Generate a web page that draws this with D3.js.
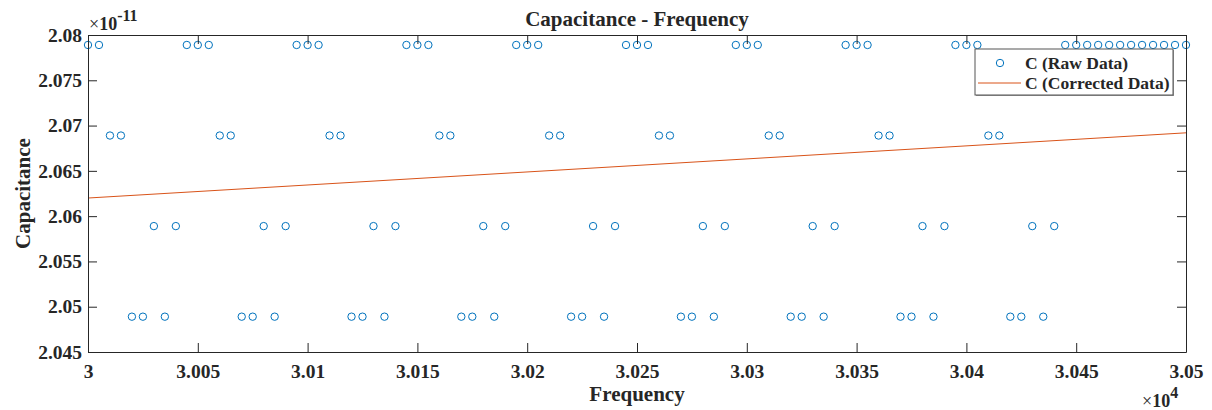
<!DOCTYPE html>
<html>
<head>
<meta charset="utf-8">
<script src="https://cdn.jsdelivr.net/npm/d3@7"></script>
<style>
  body { margin: 0; background: #fff; }
  text { font-family: "Liberation Serif", "Times New Roman", serif; font-weight: bold; fill: #262626; }
  .tick text { font-size: 19.5px; }
  .axis path, .axis line { stroke: #262626; stroke-width: 1; }
</style>
</head>
<body>
<div id="chart"></div>
<script>
// raw measurements, frequency in Hz, capacitance in units of 1e-11 F
const freqRaw = [
  30000, 30005, 30010, 30015, 30020, 30025, 30030, 30035, 30040, 30045,
  30050, 30055, 30060, 30065, 30070, 30075, 30080, 30085, 30090, 30095,
  30100, 30105, 30110, 30115, 30120, 30125, 30130, 30135, 30140, 30145,
  30150, 30155, 30160, 30165, 30170, 30175, 30180, 30185, 30190, 30195,
  30200, 30205, 30210, 30215, 30220, 30225, 30230, 30235, 30240, 30245,
  30250, 30255, 30260, 30265, 30270, 30275, 30280, 30285, 30290, 30295,
  30300, 30305, 30310, 30315, 30320, 30325, 30330, 30335, 30340, 30345,
  30350, 30355, 30360, 30365, 30370, 30375, 30380, 30385, 30390, 30395,
  30400, 30405, 30410, 30415, 30420, 30425, 30430, 30435, 30440, 30445,
  30450, 30455, 30460, 30465, 30470, 30475, 30480, 30485, 30490, 30495,
  30500
];
const capRaw = [
  2.0789, 2.0789, 2.0689, 2.0689, 2.0489, 2.0489, 2.0589, 2.0489, 2.0589, 2.0789,
  2.0789, 2.0789, 2.0689, 2.0689, 2.0489, 2.0489, 2.0589, 2.0489, 2.0589, 2.0789,
  2.0789, 2.0789, 2.0689, 2.0689, 2.0489, 2.0489, 2.0589, 2.0489, 2.0589, 2.0789,
  2.0789, 2.0789, 2.0689, 2.0689, 2.0489, 2.0489, 2.0589, 2.0489, 2.0589, 2.0789,
  2.0789, 2.0789, 2.0689, 2.0689, 2.0489, 2.0489, 2.0589, 2.0489, 2.0589, 2.0789,
  2.0789, 2.0789, 2.0689, 2.0689, 2.0489, 2.0489, 2.0589, 2.0489, 2.0589, 2.0789,
  2.0789, 2.0789, 2.0689, 2.0689, 2.0489, 2.0489, 2.0589, 2.0489, 2.0589, 2.0789,
  2.0789, 2.0789, 2.0689, 2.0689, 2.0489, 2.0489, 2.0589, 2.0489, 2.0589, 2.0789,
  2.0789, 2.0789, 2.0689, 2.0689, 2.0489, 2.0489, 2.0589, 2.0489, 2.0589, 2.0789,
  2.0789, 2.0789, 2.0789, 2.0789, 2.0789, 2.0789, 2.0789, 2.0789, 2.0789, 2.0789,
  2.0789
];

// fitted (corrected) line
const freqFit = [30000, 30500];
const capFit = [2.0620, 2.0692];

const xTicks = [30000, 30050, 30100, 30150, 30200, 30250, 30300, 30350, 30400, 30450, 30500];
const xTickLabels = ["3", "3.005", "3.01", "3.015", "3.02", "3.025", "3.03", "3.035", "3.04", "3.045", "3.05"];
const yTicks = [2.045, 2.05, 2.055, 2.06, 2.065, 2.07, 2.075, 2.08];
const yTickLabels = ["2.045", "2.05", "2.055", "2.06", "2.065", "2.07", "2.075", "2.08"];

const width = 1212;
const height = 410;
const margin = { top: 35, right: 26, bottom: 58, left: 88 };

const svg = d3.select("#chart")
  .append("svg")
  .attr("width", width)
  .attr("height", height);

svg.append("rect").attr("width", width).attr("height", height).attr("fill", "#fff");

const x = d3.scaleLinear()
  .domain([30000, 30500])
  .range([margin.left, width - margin.right]);

const y = d3.scaleLinear()
  .domain([2.045, 2.08])
  .range([height - margin.bottom, margin.top]);

const raw = freqRaw.map((f, i) => ({ f, c: capRaw[i] }));
const fit = freqFit.map((f, i) => ({ f, c: capFit[i] }));

// raw points
svg.append("g")
  .selectAll("circle")
  .data(raw)
  .enter()
  .append("circle")
  .attr("cx", d => x(d.f))
  .attr("cy", d => y(d.c))
  .attr("r", 3.7)
  .attr("fill", "none")
  .attr("stroke", "#0072BD")
  .attr("stroke-width", 1);

// corrected line
svg.append("path")
  .datum(fit)
  .attr("fill", "none")
  .attr("stroke", "#D95319")
  .attr("stroke-width", 1)
  .attr("d", d3.line().x(d => x(d.f)).y(d => y(d.c)));

// axes, ticks inward like matlab
svg.append("g")
  .attr("class", "axis")
  .attr("transform", `translate(0,${y(2.045)})`)
  .call(d3.axisBottom(x).tickValues(xTicks)
    .tickFormat((d, i) => xTickLabels[i])
    .tickSizeInner(-9).tickSizeOuter(0).tickPadding(12));

svg.append("g")
  .attr("class", "axis")
  .attr("transform", `translate(0,${y(2.08)})`)
  .call(d3.axisTop(x).tickValues(xTicks).tickFormat("")
    .tickSizeInner(-9).tickSizeOuter(0));

svg.append("g")
  .attr("class", "axis")
  .attr("transform", `translate(${x(30000)},0)`)
  .call(d3.axisLeft(y).tickValues(yTicks)
    .tickFormat((d, i) => yTickLabels[i])
    .tickSizeInner(-9).tickSizeOuter(0).tickPadding(6));

svg.append("g")
  .attr("class", "axis")
  .attr("transform", `translate(${x(30500)},0)`)
  .call(d3.axisRight(y).tickValues(yTicks).tickFormat("")
    .tickSizeInner(-9).tickSizeOuter(0));

// exponent labels
const yExp = svg.append("text")
  .attr("x", 89)
  .attr("y", 30)
  .style("font-size", "18px")
  .style("font-weight", "normal");
yExp.append("tspan").text("\u00d7");
yExp.append("tspan").style("font-weight", "bold").text("10");
yExp.append("tspan").attr("dy", -9).style("font-size", "16px").style("font-weight", "bold").text("-11");

const xExp = svg.append("text")
  .attr("x", 1142)
  .attr("y", 407)
  .style("font-size", "18px")
  .style("font-weight", "normal");
xExp.append("tspan").text("\u00d7");
xExp.append("tspan").style("font-weight", "bold").text("10");
xExp.append("tspan").attr("dy", -9).style("font-size", "16px").style("font-weight", "bold").text("4");

// title and labels
svg.append("text")
  .attr("x", (x(30000) + x(30500)) / 2)
  .attr("y", 26)
  .attr("text-anchor", "middle")
  .style("font-size", "21px")
  .text("Capacitance - Frequency");

svg.append("text")
  .attr("x", (x(30000) + x(30500)) / 2)
  .attr("y", 401)
  .attr("text-anchor", "middle")
  .style("font-size", "21px")
  .text("Frequency");

svg.append("text")
  .attr("transform", `translate(30,${(y(2.045) + y(2.08)) / 2}) rotate(-90)`)
  .attr("text-anchor", "middle")
  .style("font-size", "21px")
  .text("Capacitance");

// legend
const legend = svg.append("g").attr("transform", "translate(975,49)");
legend.append("rect")
  .attr("x", 1).attr("y", 1)
  .attr("width", 198).attr("height", 46)
  .attr("fill", "#999");
legend.append("rect")
  .attr("width", 198).attr("height", 46)
  .attr("fill", "#fff")
  .attr("stroke", "#555")
  .attr("stroke-width", 1);
legend.append("circle")
  .attr("cx", 25).attr("cy", 14).attr("r", 3.7)
  .attr("fill", "none").attr("stroke", "#0072BD");
legend.append("line")
  .attr("x1", 3).attr("x2", 46).attr("y1", 34).attr("y2", 34)
  .attr("stroke", "#D95319");
legend.append("text")
  .attr("x", 50).attr("y", 20)
  .style("font-size", "17.5px")
  .text("C (Raw Data)");
legend.append("text")
  .attr("x", 50).attr("y", 40)
  .style("font-size", "17.5px")
  .text("C (Corrected Data)");
</script>
</body>
</html>
